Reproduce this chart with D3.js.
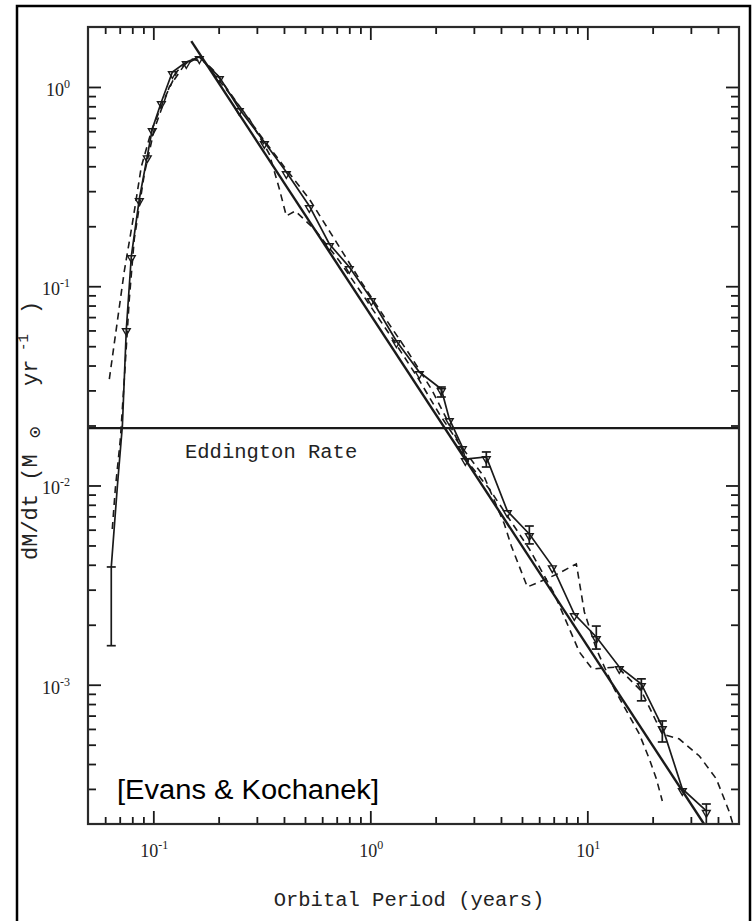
<!DOCTYPE html>
<html>
<head>
<meta charset="utf-8">
<script src="https://cdn.jsdelivr.net/npm/d3@7"></script>
<style>
  body { margin: 0; background: #fff; }
  svg { display: block; }
</style>
</head>
<body>
<svg id="chart" width="753" height="921"></svg>
<script>
// Mass-return rate of tidally disrupted debris vs. orbital period
// Simulation histogram (solid, with markers and error bars)
const simPeriod = [0.0640, 0.0683, 0.0720, 0.0751, 0.0792, 0.0862, 0.0938, 0.0989, 0.1089, 0.1224,
  0.1419, 0.1629, 0.2014, 0.2490, 0.3248, 0.4101, 0.5235, 0.6473, 0.8001, 1.011,
  1.318, 1.682, 2.124, 2.312, 2.655, 2.741, 3.424, 4.279, 5.404, 6.898,
  8.711, 11.00, 14.04, 17.74, 22.16, 27.41, 35.35];
const simRate = [0.00390, 0.00994, 0.0199, 0.0610, 0.1418, 0.274, 0.450, 0.615, 0.841, 1.189,
  1.335, 1.414, 1.122, 0.776, 0.530, 0.3745, 0.2528, 0.1629, 0.1249, 0.0863,
  0.0531, 0.0371, 0.0305, 0.02157, 0.01560, 0.01358, 0.01390, 0.00745, 0.00571, 0.00394,
  0.002265, 0.001737, 0.001228, 0.001009, 0.000614, 0.000300, 0.000233];

// Error bars on the histogram
const errPeriod = [0.0640, 2.124, 3.424, 5.404, 11.00, 17.74, 22.16, 35.35];
const errLow    = [0.00157, 0.0278, 0.01238, 0.00509, 0.00151, 0.00083, 0.000516, 0.00018];
const errHigh   = [0.00390, 0.0312, 0.01473, 0.00626, 0.00197, 0.00107, 0.000658, 0.000252];

// Alternative runs (dashed)
const runAPeriod = [0.0627, 0.0683, 0.0735, 0.0800, 0.0880, 0.0979, 0.1124, 0.129, 0.1497, 0.1718,
  0.2124, 0.277, 0.3424, 0.381, 0.410, 0.451, 0.552, 0.720, 0.938, 1.250,
  1.647, 2.080, 2.571, 3.352, 4.145, 4.465, 5.29, 6.01, 7.27, 8.90,
  9.69, 11.0, 13.32, 17.36, 19.31, 20.80, 22.16];
const runARate = [0.0342, 0.0669, 0.1192, 0.2053, 0.397, 0.601, 0.871, 1.203, 1.382, 1.335,
  1.0, 0.691, 0.461, 0.3077, 0.2252, 0.2386, 0.1938, 0.1339, 0.0883, 0.0556,
  0.0350, 0.02285, 0.01615, 0.01103, 0.00641, 0.00497, 0.003095, 0.00328, 0.003595, 0.00404,
  0.002318, 0.001512, 0.000952, 0.000566, 0.000424, 0.000337, 0.000261];

const runBPeriod = [0.0647, 0.0668, 0.0705, 0.0735, 0.0775, 0.0817, 0.0909, 0.1011, 0.1185, 0.139,
  0.1629, 0.191, 0.2362, 0.308, 0.4015, 0.5235, 0.683, 0.890, 1.160, 1.512,
  1.910, 2.312, 2.859, 3.535, 4.37, 5.404, 7.05, 9.19, 10.54, 13.75,
  17.74, 22.16, 26.55, 32.82, 39.31, 45.12, 47.6];
const runBRate = [0.00605, 0.0096, 0.01712, 0.0342, 0.0863, 0.1726, 0.366, 0.615, 1.0, 1.289,
  1.414, 1.203, 0.871, 0.581, 0.397, 0.274, 0.1726, 0.1087, 0.0701, 0.0457,
  0.0305, 0.02035, 0.01282, 0.0096, 0.00679, 0.0048, 0.002854, 0.00146, 0.0012, 0.001228,
  0.00093, 0.000566, 0.000534, 0.000439, 0.000337, 0.00023, 0.000189];

// t^(-5/3) power law, given by its end points
const fitPeriod = [0.1496, 34.5];
const fitRate = [1.70, 0.0002];

const eddingtonRate = 0.0194;

const xMajorTicks = [0.1, 1, 10];
const xTickExp = ["-1", "0", "1"];
const yMajorTicks = [0.001, 0.01, 0.1, 1];
const yTickExp = ["-3", "-2", "-1", "0"];

const svg = d3.select("#chart");
const pL = 88, pR = 739, pT = 27, pB = 824;

const x = d3.scaleLog().domain([0.05, 50]).range([pL, pR]);
const y = d3.scaleLog().domain([2e-4, 2]).range([pB, pT]);

const ink = "#1a1a1a";

// outer frame
svg.append("path")
  .attr("d", "M17,930V6H750V930")
  .attr("fill", "none").attr("stroke", "#000").attr("stroke-width", 2.5);

svg.append("defs").append("clipPath").attr("id", "plotClip")
  .append("rect").attr("x", pL).attr("y", pT)
  .attr("width", pR - pL).attr("height", pB - pT);

const plot = svg.append("g").attr("clip-path", "url(#plotClip)");

// ticks: minor + major on all four sides, pointing inward
const allX = x.ticks().filter(v => v > 0.05 * 1.001 && v < 50 / 1.001);
const minorX = allX.filter(v => !xMajorTicks.some(m => Math.abs(m - v) / m < 1e-6));
const allY = y.ticks().filter(v => v > 2e-4 * 1.001 && v < 2 / 1.001);
const minorY = allY.filter(v => !yMajorTicks.some(m => Math.abs(m - v) / m < 1e-6));

function styleAxis(g) {
  g.select(".domain").remove();
  g.selectAll("line").attr("stroke", ink).attr("stroke-width", 1.8);
  g.selectAll("text").remove();
}

svg.append("g").attr("transform", `translate(0,${pB})`)
  .call(d3.axisBottom(x).tickValues(minorX).tickSize(-7)).call(styleAxis);
svg.append("g").attr("transform", `translate(0,${pB})`)
  .call(d3.axisBottom(x).tickValues(xMajorTicks).tickSize(-13)).call(styleAxis);
svg.append("g").attr("transform", `translate(0,${pT})`)
  .call(d3.axisTop(x).tickValues(minorX).tickSize(-7)).call(styleAxis);
svg.append("g").attr("transform", `translate(0,${pT})`)
  .call(d3.axisTop(x).tickValues(xMajorTicks).tickSize(-13)).call(styleAxis);
svg.append("g").attr("transform", `translate(${pL},0)`)
  .call(d3.axisLeft(y).tickValues(minorY).tickSize(-8)).call(styleAxis);
svg.append("g").attr("transform", `translate(${pL},0)`)
  .call(d3.axisLeft(y).tickValues(yMajorTicks).tickSize(-13)).call(styleAxis);
svg.append("g").attr("transform", `translate(${pR},0)`)
  .call(d3.axisRight(y).tickValues(minorY).tickSize(-8)).call(styleAxis);
svg.append("g").attr("transform", `translate(${pR},0)`)
  .call(d3.axisRight(y).tickValues(yMajorTicks).tickSize(-13)).call(styleAxis);

// plot box
svg.append("rect")
  .attr("x", pL).attr("y", pT)
  .attr("width", pR - pL).attr("height", pB - pT)
  .attr("fill", "none").attr("stroke", "#2a2a2a").attr("stroke-width", 2.2);

// tick labels
const labFont = "'Liberation Serif', 'DejaVu Serif', serif";
xMajorTicks.forEach((v, i) => {
  const t = svg.append("text")
    .attr("x", x(v) + 1).attr("y", 857)
    .attr("text-anchor", "middle")
    .attr("font-family", labFont).attr("font-size", 18).attr("fill", "#222");
  t.append("tspan").text("10");
  t.append("tspan").attr("font-size", 12).attr("dy", -8).text(xTickExp[i]);
});
yMajorTicks.forEach((v, i) => {
  const t = svg.append("text")
    .attr("x", 70).attr("y", y(v) + 9)
    .attr("text-anchor", "end")
    .attr("font-family", labFont).attr("font-size", 18).attr("fill", "#222");
  t.append("tspan").text("10");
  t.append("tspan").attr("font-size", 12).attr("dy", -8).text(yTickExp[i]);
});

// axis titles
const monoFont = "'Liberation Mono', 'DejaVu Sans Mono', monospace";
svg.append("text")
  .attr("x", 409).attr("y", 906)
  .attr("text-anchor", "middle")
  .attr("font-family", monoFont).attr("font-size", 20.5).attr("fill", "#222")
  .text("Orbital Period (years)");

// rotated title: local x runs upward (x' = -screenY), local y is screen x
const yTitle = svg.append("text")
  .attr("transform", "rotate(-90)")
  .attr("font-family", monoFont).attr("font-size", 22).attr("fill", "#222");
yTitle.append("tspan").attr("x", -560).attr("y", 37).text("dM/dt (M");
yTitle.append("tspan").attr("x", -438).attr("y", 41).attr("font-size", 19).text("\u2299");
yTitle.append("tspan").attr("x", -386).attr("y", 37).text("yr");
yTitle.append("tspan").attr("x", -351).attr("y", 28).attr("font-size", 14).text("-1");
yTitle.append("tspan").attr("x", -314).attr("y", 37).text(")");

// Eddington limit
plot.append("line")
  .attr("x1", pL).attr("x2", pR)
  .attr("y1", y(eddingtonRate)).attr("y2", y(eddingtonRate))
  .attr("stroke", ink).attr("stroke-width", 2.2);
svg.append("text")
  .attr("x", 185).attr("y", 458)
  .attr("font-family", monoFont).attr("font-size", 20.5).attr("fill", "#222")
  .text("Eddington Rate");

const line = d3.line().x(d => x(d[0])).y(d => y(d[1]));

// dashed alternative runs
plot.append("path")
  .attr("d", line(d3.zip(runAPeriod, runARate)))
  .attr("fill", "none").attr("stroke", ink).attr("stroke-width", 1.6)
  .attr("stroke-dasharray", "7,5");
plot.append("path")
  .attr("d", line(d3.zip(runBPeriod, runBRate)))
  .attr("fill", "none").attr("stroke", ink).attr("stroke-width", 1.6)
  .attr("stroke-dasharray", "7,5");

// power-law fit
plot.append("path")
  .attr("d", line(d3.zip(fitPeriod, fitRate)))
  .attr("fill", "none").attr("stroke", ink).attr("stroke-width", 2.4);

// simulation histogram
plot.append("path")
  .attr("d", line(d3.zip(simPeriod, simRate)))
  .attr("fill", "none").attr("stroke", ink).attr("stroke-width", 1.7);

// error bars
const capW = 4.5;
errPeriod.forEach((p, i) => {
  const g = plot.append("g").attr("stroke", ink).attr("stroke-width", 1.7);
  const cx = x(p);
  g.append("line").attr("x1", cx).attr("x2", cx).attr("y1", y(errHigh[i])).attr("y2", y(errLow[i]));
  g.append("line").attr("x1", cx - capW).attr("x2", cx + capW).attr("y1", y(errHigh[i])).attr("y2", y(errHigh[i]));
  g.append("line").attr("x1", cx - capW).attr("x2", cx + capW).attr("y1", y(errLow[i])).attr("y2", y(errLow[i]));
});

// markers: small inverted triangles
const tri = d3.symbol().type(d3.symbolTriangle).size(26);
plot.selectAll("path.mk")
  .data(d3.zip(simPeriod, simRate).slice(3))
  .join("path")
  .attr("class", "mk")
  .attr("d", tri)
  .attr("transform", d => `translate(${x(d[0])},${y(d[1]) + 2}) rotate(180)`)
  .attr("fill", "none").attr("stroke", ink).attr("stroke-width", 1.4);

// credit
svg.append("text")
  .attr("x", 117).attr("y", 799)
  .attr("font-family", "'Liberation Sans', Arial, sans-serif")
  .attr("font-size", 27).attr("fill", "#000")
  .attr("textLength", 262).attr("lengthAdjust", "spacingAndGlyphs")
  .text("[Evans & Kochanek]");
</script>
</body>
</html>
